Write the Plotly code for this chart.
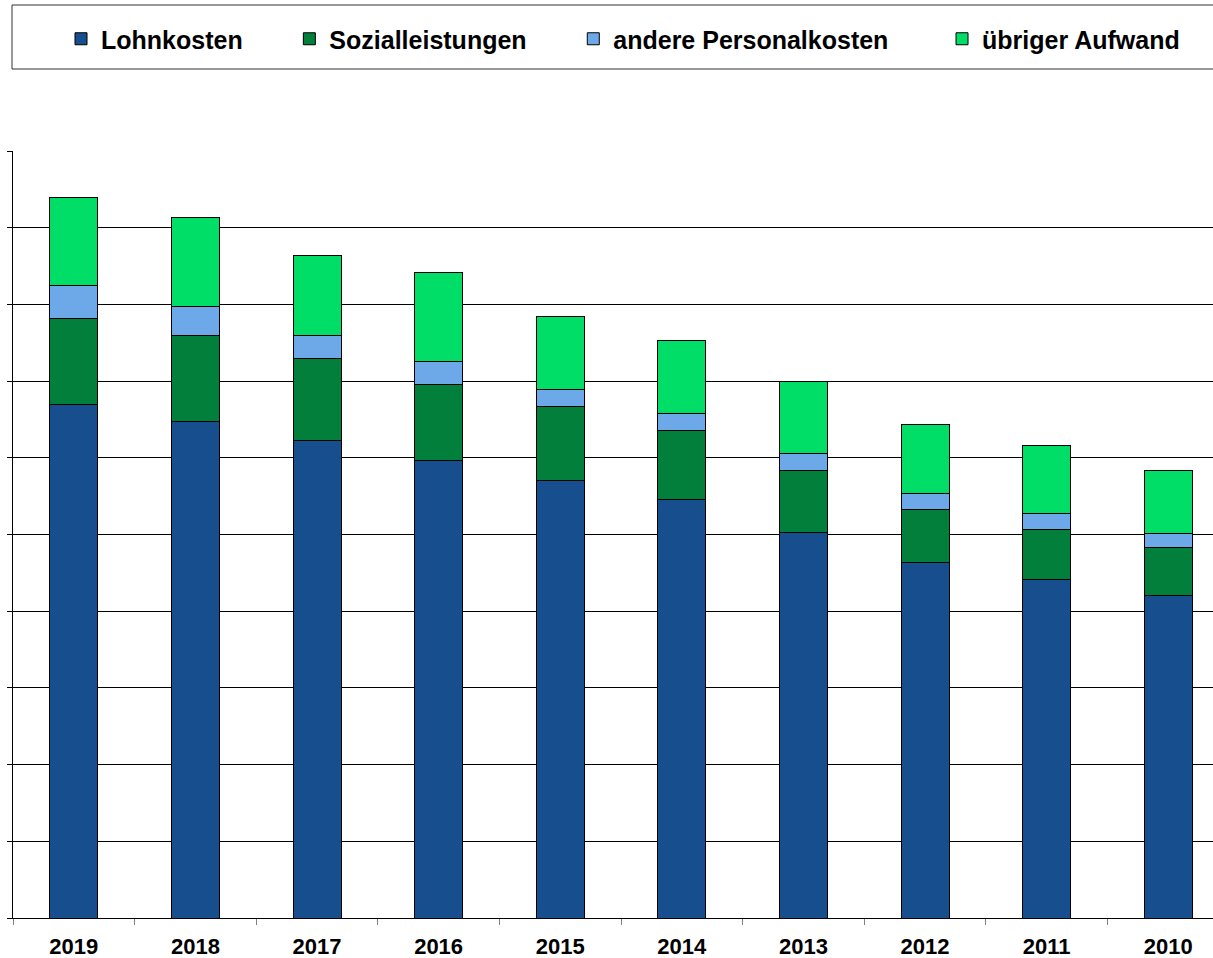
import plotly.graph_objects as go

years = ["2019", "2018", "2017", "2016", "2015", "2014", "2013", "2012", "2011", "2010"]
lohnkosten = [6.69, 6.47, 6.23, 5.96, 5.71, 5.46, 5.02, 4.63, 4.41, 4.20]
sozialleistungen = [1.12, 1.12, 1.06, 0.99, 0.96, 0.89, 0.81, 0.70, 0.65, 0.63]
andere_personalkosten = [0.43, 0.38, 0.30, 0.31, 0.22, 0.23, 0.22, 0.20, 0.21, 0.18]
uebriger_aufwand = [1.16, 1.16, 1.05, 1.15, 0.95, 0.95, 0.94, 0.91, 0.89, 0.83]

series = [
    ("Lohnkosten", lohnkosten, "#174F8E", 6),
    ("Sozialleistungen", sozialleistungen, "#02803B", 6),
    ("andere Personalkosten", andere_personalkosten, "#6DA8E8", 7),
    ("übriger Aufwand", uebriger_aufwand, "#00DE68", 0),
]

FONT = "Liberation Sans, Arial, sans-serif"

W, H = 1213, 958
L, T, B, R = 13, 151, 40, 0
PH = H - T - B

fig = go.Figure()
for name, vals, col, npad in series:
    fig.add_trace(go.Bar(
        x=years, y=vals, name=name + "\u00a0" * npad,
        marker=dict(color=col, line=dict(color="#000000", width=1)),
    ))

fig.update_layout(
    width=W, height=H,
    barmode="stack", bargap=0.605,
    plot_bgcolor="white", paper_bgcolor="white",
    margin=dict(l=L, r=R, t=T, b=B),
    font=dict(family=FONT, color="#000000"),
    legend=dict(
        orientation="h", xref="container", yref="container",
        x=61 / W, y=1 - 39 / H, xanchor="left", yanchor="middle",
        font=dict(family=FONT, size=25, color="#000000", weight="bold"),
        bgcolor="rgba(0,0,0,0)", borderwidth=0, traceorder="normal",
    ),
    shapes=[dict(
        type="rect", xref="paper", yref="paper",
        x0=-1 / 1200, x1=1.01, y0=1 + (T - 69) / PH, y1=1 + (T - 5) / PH,
        line=dict(color="#333333", width=1), fillcolor="rgba(0,0,0,0)",
    )],
)
fig.update_xaxes(
    type="category", range=[-0.5, 9.368], automargin=False,
    showline=True, linecolor="#000000", linewidth=1,
    ticks="outside", tickson="boundaries", ticklen=6, tickcolor="#808080",
    ticklabelstandoff=9,
    tickfont=dict(family=FONT, size=22, color="#000000", weight="bold"),
    showgrid=False,
)
fig.update_yaxes(
    range=[0, 10], dtick=1, showticklabels=False, automargin=False,
    showgrid=True, gridcolor="#000000", gridwidth=1,
    showline=True, linecolor="#000000", linewidth=1,
    ticks="outside", ticklen=5, tickcolor="#000000", zeroline=False,
)

fig.write_html(
    "out.html",
    config={"displayModeBar": False},
    post_script="document.body.style.margin='0';document.body.style.overflow='hidden';",
)
